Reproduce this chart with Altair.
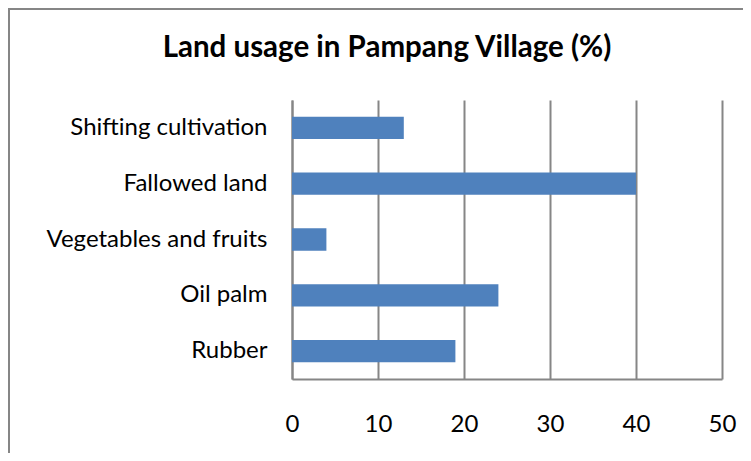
import altair as alt
import pandas as pd

categories = ["Shifting cultivation", "Fallowed land", "Vegetables and fruits", "Oil palm", "Rubber"]
values = [13, 40, 4, 24, 19]
x_ticks = [0, 10, 20, 30, 40, 50]

df = pd.DataFrame({"category": categories, "value": values})

FONT = "Lato"
GRID = "#868686"

bars = alt.Chart(df).mark_bar(color="#4F81BD").encode(
    x=alt.X("value:Q",
            scale=alt.Scale(domain=[0, 50], nice=False),
            axis=alt.Axis(values=x_ticks, title=None, grid=True, gridColor=GRID, gridWidth=2,
                          domainColor=GRID, domainWidth=2, ticks=False, labelPadding=33,
                          labelFlush=False, labelOverlap=False,
                          labelFont=FONT, labelFontSize=24, labelColor="#000000")),
    y=alt.Y("category:N", sort=categories,
            scale=alt.Scale(paddingInner=0.6, paddingOuter=0.3),
            axis=alt.Axis(title=None, grid=False, ticks=False, domainColor=GRID, domainWidth=2,
                          labelPadding=25, labelFont=FONT, labelFontSize=24, labelLimit=0,
                          labelColor="#000000")),
)

border = alt.Chart(df).mark_rect(fillOpacity=0, stroke=GRID, strokeWidth=2).encode(
    x=alt.value(-283), x2=alt.value(2000), y=alt.value(-91), y2=alt.value(2000)
)

chart = alt.layer(border, bars).properties(
    width=430, height=279,
    title=alt.TitleParams("Land usage in Pampang Village (%)", font=FONT, fontSize=29.5,
                          fontWeight="bold", color="#000000", anchor="middle",
                          baseline="alphabetic", offset=-78, dx=-120),
    autosize=alt.AutoSizeParams(type="none"),
    padding={"left": 284, "top": 92, "right": 21, "bottom": 74},
    background="white",
).configure_view(stroke=None)

chart.save("out.html", embed_options={"renderer": "svg", "actions": False})
